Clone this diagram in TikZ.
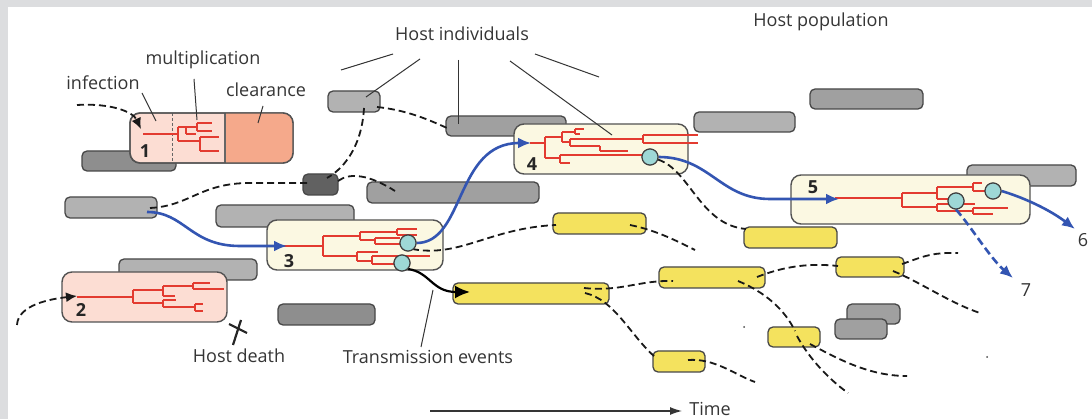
\documentclass[tikz,border=0pt]{standalone}
\usepackage{fontspec}
\setmainfont{Open Sans}
\usetikzlibrary{arrows.meta,fit}

\definecolor{framegray}{HTML}{DCDDDF}
\definecolor{ink}{HTML}{353535}
\definecolor{barlt}{HTML}{B2B2B2}
\definecolor{barmd}{HTML}{A0A0A0}
\definecolor{barmk}{HTML}{8E8E8E}
\definecolor{bardk}{HTML}{616161}
\definecolor{yel}{HTML}{F4E25E}
\definecolor{cream}{HTML}{FBF8E2}
\definecolor{palepink}{HTML}{FCDDD3}
\definecolor{salmon}{HTML}{F5A98B}
\definecolor{treered}{HTML}{E33B30}
\definecolor{flow}{HTML}{3355B2}
\definecolor{ball}{HTML}{9ED8D6}

\begin{document}
\begin{tikzpicture}[x=1pt,y=-1pt,
  bar/.style={draw=black!72, line width=1.3pt, rounded corners=5pt, inner sep=0pt},
  ybar/.style={bar, fill=yel},
  hostframe/.style={draw=black!68, line width=1.4pt, rounded corners=10pt, inner sep=0pt},
  lbl/.style={font=\fontsize{18}{21}\selectfont, text=ink, inner sep=0pt},
  num/.style={font=\fontsize{18}{21}\selectfont\bfseries, text=black!85, inner sep=0pt},
  pointer/.style={draw=ink, line width=1pt},
  dashline/.style={draw=black!90, line width=1.8pt, dash pattern=on 7pt off 4pt},
  tree/.style={draw=treered, line width=1.7pt},
  flowline/.style={draw=flow, line width=2.6pt},
  tip/.style={-{Latex[length=13pt,width=11pt]}},
  smalltip/.style={-{Latex[length=11pt,width=10pt]}},
  cell/.style={circle, draw=black!75, line width=1.1pt, fill=ball, minimum size=16pt, inner sep=0pt}
]
\useasboundingbox (0,0) rectangle (1092,419);
\fill[white] (0,0) rectangle (1092,419);
\fill[framegray] (0,0) rectangle (1092,7);
\fill[framegray] (0,0) rectangle (8,419);

% ---------------- host individuals (grey bars) ----------------
\node[bar, fill=barlt, fit={(328,91) (380,112)}] (g1) {};
\node[bar, fill=barmd, fit={(446,116) (566,136)}] (g2) {};
\node[bar, fill=barlt, fit={(694,112) (795,132)}] (g3) {};
\node[bar, fill=barmd, fit={(810,89) (923,109)}] (g4) {};
\node[bar, fill=barmk, fit={(82,151) (176,171)}] (g5) {};
\node[bar, fill=bardk, fit={(303,174) (338,195)}] (g6) {};
\node[bar, fill=barmd, fit={(367,182) (539,203)}] (g7) {};
\node[bar, fill=barlt, fit={(65,197) (157,218)}] (g8) {};
\node[bar, fill=barlt, fit={(216,205) (354,227)}] (g9) {};
\node[bar, fill=barlt, fit={(119,259) (257,280)}] (g10) {};
\node[bar, fill=barmk, fit={(278,304) (375,325)}] (g11) {};
\node[bar, fill=barlt, fit={(967,165) (1076,186)}] (g12) {};
\node[bar, fill=barmd, fit={(847,304) (900,324)}] (g13) {};
\node[bar, fill=barmd, fit={(835,319) (887,339)}] (g14) {};

% ---------------- infected hosts ----------------
% host 1: infection / multiplication / clearance phases
\node[hostframe, fill=palepink, fit={(130,113) (293,163)}] (h1) {};
\begin{scope}
  \clip[rounded corners=10pt] (130,113) rectangle (293,163);
  \fill[salmon] (225,113) rectangle (293,163);
\end{scope}
\draw[black!60, line width=1.1pt] (225,113) -- (225,163);
\draw[black!60, line width=1pt, dash pattern=on 3pt off 2pt] (172,113) -- (172,163);
\node[hostframe, fit={(130,113) (293,163)}] (h1rim) {};

\node[hostframe, fill=palepink, fit={(62,272) (227,322)}] (h2) {};
\node[hostframe, fill=cream, fit={(267,220) (443,270)}] (h3) {};
\node[hostframe, fill=cream, fit={(514,124) (688,174)}] (h4) {};
\node[hostframe, fill=cream, fit={(791,175) (1030,224)}] (h5) {};

% ---------------- hosts infected later (yellow bars) ----------------
\node[ybar, fit={(553,213) (646,234)}] (y1) {};
\node[ybar, fit={(744,227) (837,248)}] (y2) {};
\node[ybar, fit={(453,283) (609,304)}] (y3) {};
\node[ybar, fit={(659,267) (765,288)}] (y4) {};
\node[ybar, fit={(836,257) (904,277)}] (y5) {};
\node[ybar, fit={(653,351) (705,372)}] (y6) {};
\node[ybar, fit={(768,327) (820,347)}] (y7) {};

% ---------------- within-host pathogen phylogenies ----------------
% host 1
\draw[tree] (143,134) -- (178,134)
  (178,127) -- (178,141)
  (178,127) -- (197,127) (197,123) -- (197,131)
  (197,123) -- (212,123) (197,131) -- (212,131)
  (186,127) -- (186,134) (186,134) -- (196,134)
  (178,141) -- (200,141) (200,137) -- (200,151)
  (200,137) -- (219,137) (200,151) -- (219,151);
% host 2
\draw[tree] (77,297) -- (133,297)
  (133,290) -- (133,303)
  (133,290) -- (163,290) (163,286) -- (163,296)
  (163,286) -- (193,286) (193,283) -- (193,289)
  (193,283) -- (210,283) (193,289) -- (224,289)
  (163,296) -- (175,296)
  (133,303) -- (163,303) (163,300) -- (163,307)
  (163,300) -- (176,300)
  (163,307) -- (195,307) (195,304) -- (195,311)
  (195,304) -- (203,304) (195,311) -- (203,311);
% host 3
\draw[tree] (283,246) -- (323,246)
  (323,236) -- (323,256)
  (323,236) -- (360,236) (360,232) -- (360,240)
  (360,232) -- (397,232) (397,229) -- (397,235)
  (397,229) -- (417,229) (397,235) -- (417,235)
  (360,240) -- (375,240) (375,238) -- (375,244)
  (375,238) -- (400,238) (375,244) -- (402,244)
  (323,256) -- (357,256) (357,252) -- (357,261)
  (357,252) -- (378,252)
  (357,261) -- (372,261) (372,256) -- (372,264)
  (372,256) -- (430,256) (372,264) -- (396,264);
% host 4
\draw[tree] (530,143) -- (545,143)
  (545,137) -- (545,158)
  (545,137) -- (562,137) (562,132) -- (562,142)
  (562,132) -- (575,132) (575,129) -- (575,134)
  (575,129) -- (584,129) (575,134) -- (580,134)
  (562,142) -- (570,142) (570,139) -- (570,146)
  (570,139) -- (643,139) (643,135) -- (643,143)
  (643,135) -- (698,135) (643,143) -- (698,143)
  (570,146) -- (600,146) (600,146) -- (600,151)
  (600,151) -- (628,151)
  (545,158) -- (560,158) (560,155) -- (560,163)
  (560,155) -- (645,155) (560,163) -- (570,163);
% host 5
\draw[tree] (835,198) -- (902,198)
  (902,193) -- (902,207)
  (902,193) -- (937,193) (937,187) -- (937,199)
  (937,187) -- (973,187) (973,183) -- (973,191)
  (973,183) -- (982,183) (973,191) -- (988,191)
  (937,199) -- (950,199)
  (902,207) -- (937,207) (937,204) -- (937,211)
  (937,204) -- (975,204)
  (937,211) -- (973,211) (973,208) -- (973,214)
  (973,208) -- (1008,208) (973,214) -- (993,214);

% ---------------- lineage traces between hosts ----------------
\coordinate (inA) at (77,105);
\coordinate (h1in) at (141,129);
\coordinate (inB) at (17,325);
\coordinate (h2in) at (77,296);
\coordinate (g1a) at (364,108);
\coordinate (g1b) at (377,107);
\coordinate (g2a) at (447,128);
\coordinate (g6a) at (327,178);
\coordinate (g6b) at (310,183);
\coordinate (g6c) at (338,181);
\coordinate (g7a) at (395,191);
\coordinate (g8a) at (150,208);
\coordinate (h3a) at (412,249);
\coordinate (y1a) at (556,225);
\coordinate (y1b) at (630,225);
\coordinate (endA) at (695,250);
\coordinate (y2a) at (746,229);
\coordinate (y3a) at (584,288);
\coordinate (y3b) at (585,293);
\coordinate (y4a) at (673,281);
\coordinate (y4b) at (738,281);
\coordinate (y4c) at (757,277);
\coordinate (y5a) at (838,266);
\coordinate (y5b) at (902,264);
\coordinate (y5c) at (893,271);
\coordinate (endB) at (958,253);
\coordinate (endC) at (980,313);
\coordinate (y6a) at (655,357);
\coordinate (y6b) at (688,360);
\coordinate (endD) at (755,382);
\coordinate (y7a) at (795,331);
\coordinate (y7b) at (797,336);
\coordinate (y7c) at (810,344);
\coordinate (endE) at (848,393);
\coordinate (endF) at (907,376);
\coordinate (y3in) at (470,292);

\draw[dashline, smalltip] (inA) .. controls (112,103) and (133,112) .. (h1in);
\draw[dashline, smalltip] (inB) .. controls (18,305) and (50,299) .. (h2in);
\draw[dashline] (g1a) .. controls (362,145) and (345,168) .. (g6a);
\draw[dashline] (g1b) .. controls (405,110) and (425,118) .. (g2a);
\draw[dashline] (g8a) .. controls (190,206) and (200,183) .. (250,183) -- (g6b);
\draw[dashline] (g6c) .. controls (350,172) and (370,175) .. (g7a);
\draw[dashline] (h3a) .. controls (460,258) and (490,228) .. (y1a);
\draw[dashline] (y1b) .. controls (655,230) and (675,240) .. (endA);
\draw[dashline] (y3a) .. controls (620,292) and (640,280) .. (y4a);
\draw[dashline] (y3b) .. controls (615,300) and (630,335) .. (y6a);
\draw[dashline] (y6b) .. controls (715,358) and (735,375) .. (endD);
\draw[dashline] (y4b) .. controls (765,292) and (785,310) .. (y7a);
\draw[dashline] (y4c) .. controls (785,266) and (810,263) .. (y5a);
\draw[dashline] (y5b) .. controls (920,258) and (930,252) .. (endB);
\draw[dashline] (y5c) .. controls (920,282) and (950,303) .. (endC);
\draw[dashline] (y7b) .. controls (810,360) and (830,380) .. (endE);
\draw[dashline] (y7c) .. controls (840,360) and (870,376) .. (endF);

% ---------------- transmission events ----------------
\coordinate (g8b) at (147,212);
\coordinate (h3in) at (287,246);
\coordinate (h4in) at (531,143);
\coordinate (h5in) at (839,199);
\coordinate (out6) at (1075,229);
\coordinate (out7) at (1013,278);

\node[cell] (c3a) at (408,243) {};
\node[cell] (c3b) at (402,263) {};
\node[cell] (c4) at (650,157) {};
\node[cell] (c5a) at (993,191) {};
\node[cell] (c5b) at (956,201) {};

\draw[dashline] (c4) .. controls (690,170) and (700,225) .. (y2a);

\draw[flowline, tip] (g8b) .. controls (185,212) and (190,246) .. (240,246) -- (h3in);
\draw[flowline, tip] (c3a.east) .. controls (465,243) and (455,143) .. (h4in);
\draw[flowline, tip] (c4.east) .. controls (710,157) and (720,199) .. (770,199) -- (h5in);
\draw[flowline, tip] (c5a.east) .. controls (1025,198) and (1050,210) .. (out6);
\draw[flowline, tip, dash pattern=on 8pt off 4pt] (c5b.south) .. controls (970,225) and (990,258) .. (out7);
\draw[line width=2.2pt, -{Latex[length=15pt,width=13pt]}] (c3b.south east) .. controls (430,272) and (432,292) .. (y3in);

% redraw the cells on top of the lines leaving them
\node[cell] at (c3a) {};
\node[cell] at (c3b) {};
\node[cell] at (c4) {};
\node[cell] at (c5a) {};
\node[cell] at (c5b) {};

% host numbers
\node[num] (n1) at (145,151) {1};
\node[num] (n2) at (81,310) {2};
\node[num] (n3) at (289,261) {3};
\node[num] (n4) at (532,164) {4};
\node[num] (n5) at (813,187) {5};
\node[lbl] (n6) at (1083,240) {6};
\node[lbl] (n7) at (1026,290) {7};

% ---------------- labels and pointers ----------------
\node[lbl] (pop) at (821,22) {Host population};
\node[lbl] (indiv) at (462,34) {Host individuals};
\node[lbl] (mult) at (203,60) {multiplication};
\node[lbl] (inf) at (103,83) {infection};
\node[lbl] (clear) at (266,90) {clearance};
\node[lbl] (death) at (239,356) {Host death};
\node[lbl] (trans) at (428,357) {Transmission events};
\node[lbl] (time) at (710,409) {Time};

\coordinate (pa1) at (341,70);   \coordinate (pb1) at (393,54);
\coordinate (pa2) at (420,59);   \coordinate (pb2) at (366,97);
\coordinate (pa3) at (458,60);   \coordinate (pb3) at (458,124);
\coordinate (pa4) at (510,61);   \coordinate (pb4) at (612,135);
\coordinate (pa5) at (535,54);   \coordinate (pb5) at (599,77);
\draw[pointer] (pa1) -- (pb1);
\draw[pointer] (pa2) -- (pb2);
\draw[pointer] (pa3) -- (pb3);
\draw[pointer] (pa4) -- (pb4);
\draw[pointer] (pa5) -- (pb5);

\coordinate (qi1) at (142,93);   \coordinate (qi2) at (156,121);
\coordinate (qm1) at (194,79);   \coordinate (qm2) at (197,120);
\coordinate (qc1) at (263,106);  \coordinate (qc2) at (258,123);
\coordinate (qt1) at (421,347);  \coordinate (qt2) at (433,290);
\draw[pointer] (qi1) -- (qi2);
\draw[pointer] (qm1) -- (qm2);
\draw[pointer] (qc1) -- (qc2);
\draw[pointer] (qt1) -- (qt2);

% host death mark
\coordinate (x1) at (233,345); \coordinate (x2) at (241,320);
\coordinate (x3) at (229,324); \coordinate (x4) at (247,333);
\draw[line width=2.2pt, black!85] (x1) -- (x2);
\draw[line width=2.2pt, black!85] (x3) -- (x4);

% time axis
\coordinate (t0) at (430,411);
\coordinate (t1) at (682,411);
\draw[line width=1.2pt, ink, -{Latex[length=12pt,width=8pt]}] (t0) -- (t1);

% stray specks
\fill[black!70] (744,327) circle (1pt);
\fill[black!70] (987,357) circle (1pt);
\end{tikzpicture}
\end{document}
